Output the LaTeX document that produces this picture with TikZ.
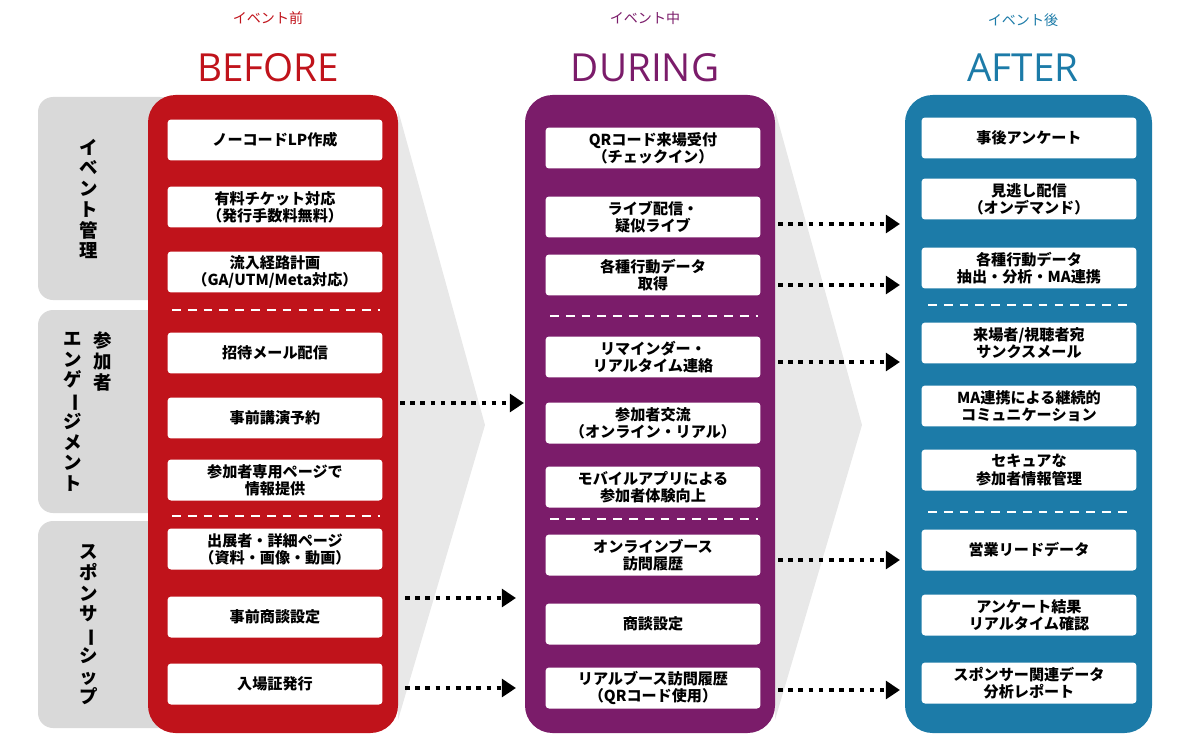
\documentclass[tikz,border=0pt]{standalone}
\usepackage{fontspec}
\setmainfont{Noto Sans CJK JP}
\newfontfamily\hdr{Open Sans}
\usetikzlibrary{arrows.meta}
\definecolor{cred}{HTML}{C0131B}
\definecolor{cpur}{HTML}{7B1C6A}
\definecolor{cblu}{HTML}{1C7BA8}
\definecolor{cgry}{HTML}{D9D9D9}
\definecolor{cchev}{HTML}{E8E8E8}
\newcommand{\vbar}{\rotatebox[origin=c]{-90}{ー}}
\begin{document}
\begin{tikzpicture}[x=0.02cm,y=-0.02cm,
  col/.style={rounded corners=0.55cm,draw=none},
  box/.style={fill=white,rounded corners=2pt,minimum width=4.3cm,minimum height=0.82cm,align=center,font=\fontsize{8.6}{9.8}\selectfont\bfseries,inner sep=1pt},
  cat/.style={fill=cgry,rounded corners=0.3cm},
  cattxt/.style={align=center,font=\fontsize{10.5}{11.8}\selectfont\bfseries},
  sepline/.style={white,line width=1.2pt,dash pattern=on 5pt off 4pt},
  arr/.style={line width=2.6pt,dash pattern=on 2.6pt off 3.2pt,-{Triangle[length=8pt,width=10pt]}},
  small/.style={font=\fontsize{8}{9.5}\selectfont},
  big/.style={font=\hdr\fontsize{22}{26}\selectfont}]
\useasboundingbox (0,0) rectangle (1200,750);
% chevrons
\fill[cchev] (398,110) -- (485,425) -- (398,720) -- cycle;
\fill[cchev] (775,110) -- (862,425) -- (775,720) -- cycle;
% category tabs
\fill[cat] (38,97) rectangle (175,300);
\fill[cat] (38,310) rectangle (175,513);
\fill[cat] (38,521) rectangle (175,728);
\node[cattxt] (c1) at (89,199) {イ\\ベ\\ン\\ト\\管\\理};
\node[cattxt,anchor=north] (c2a) at (103,326) {参\\加\\者};
\node[cattxt,anchor=north] (c2b) at (73,326) {エ\\ン\\ゲ\\\vbar\\ジ\\メ\\ン\\ト};
\node[cattxt] (c3) at (89,625) {ス\\ポ\\ン\\サ\\\vbar\\シ\\ッ\\プ};
% columns
\fill[col,cred] (148,95) rectangle (398,733);
\fill[col,cpur] (525,95) rectangle (775,733);
\fill[col,cblu] (905,95) rectangle (1152,733);
% headers
\node[small,text=cred] (h1) at (268,18) {イベント前};
\node[big,text=cred] (H1) at (268,68) {BEFORE};
\node[small,text=cpur] (h2) at (645,18) {イベント中};
\node[big,text=cpur] (H2) at (645,68) {DURING};
\node[small,text=cblu] (h3) at (1023,20) {イベント後};
\node[big,text=cblu] (H3) at (1023,68) {AFTER};
% BEFORE boxes
\node[box] (b1) at (275,140) {ノーコードLP作成};
\node[box] (b2) at (275,207) {有料チケット対応\\（発行手数料無料）};
\node[box] (b3) at (275,272) {流入経路計画\\（GA/UTM/Meta対応）};
\node[box] (b4) at (275,353) {招待メール配信};
\node[box] (b5) at (275,418) {事前講演予約};
\node[box] (b6) at (275,480) {参加者専用ページで\\情報提供};
\node[box] (b7) at (275,549) {出展者・詳細ページ\\（資料・画像・動画）};
\node[box] (b8) at (275,617) {事前商談設定};
\node[box] (b9) at (275,684) {入場証発行};
\draw[sepline] (172,310) -- (380,310);
\draw[sepline] (172,516) -- (380,516);
% DURING boxes
\node[box] (d1) at (653,148) {QRコード来場受付\\（チェックイン）};
\node[box] (d2) at (653,217) {ライブ配信・\\疑似ライブ};
\node[box] (d3) at (653,275) {各種行動データ\\取得};
\node[box] (d4) at (653,357) {リマインダー・\\リアルタイム連絡};
\node[box] (d5) at (653,423) {参加者交流\\（オンライン・リアル）};
\node[box] (d6) at (653,487) {モバイルアプリによる\\参加者体験向上};
\node[box] (d7) at (653,555) {オンラインブース\\訪問履歴};
\node[box] (d8) at (653,624) {商談設定};
\node[box] (d9) at (653,688) {リアルブース訪問履歴\\（QRコード使用）};
\draw[sepline] (550,316) -- (758,316);
\draw[sepline] (550,519) -- (758,519);
% AFTER boxes
\node[box] (a1) at (1029,138) {事後アンケート};
\node[box] (a2) at (1029,199) {見逃し配信\\（オンデマンド）};
\node[box] (a3) at (1029,268) {各種行動データ\\抽出・分析・MA連携};
\node[box] (a4) at (1029,343) {来場者/視聴者宛\\サンクスメール};
\node[box] (a5) at (1029,406) {MA連携による継続的\\コミュニケーション};
\node[box] (a6) at (1029,470) {セキュアな\\参加者情報管理};
\node[box] (a7) at (1029,550) {営業リードデータ};
\node[box] (a8) at (1029,615) {アンケート結果\\リアルタイム確認};
\node[box] (a9) at (1029,683) {スポンサー関連データ\\分析レポート};
\draw[sepline] (928,305) -- (1132,305);
\draw[sepline] (928,512) -- (1132,512);
% arrow endpoints
\coordinate (p1s) at (400,403); \coordinate (p1e) at (524,403);
\coordinate (p2s) at (405,598); \coordinate (p2e) at (516,598);
\coordinate (p3s) at (405,688); \coordinate (p3e) at (516,688);
\coordinate (q1s) at (778,224); \coordinate (q1e) at (900,224);
\coordinate (q2s) at (778,285); \coordinate (q2e) at (900,285);
\coordinate (q3s) at (778,362); \coordinate (q3e) at (900,362);
\coordinate (q4s) at (778,560); \coordinate (q4e) at (900,560);
\coordinate (q5s) at (778,690); \coordinate (q5e) at (900,690);
\foreach \s/\e in {p1s/p1e,p2s/p2e,p3s/p3e,q1s/q1e,q2s/q2e,q3s/q3e,q4s/q4e,q5s/q5e}
  \draw[arr] (\s) -- (\e);
\end{tikzpicture}
\end{document}
